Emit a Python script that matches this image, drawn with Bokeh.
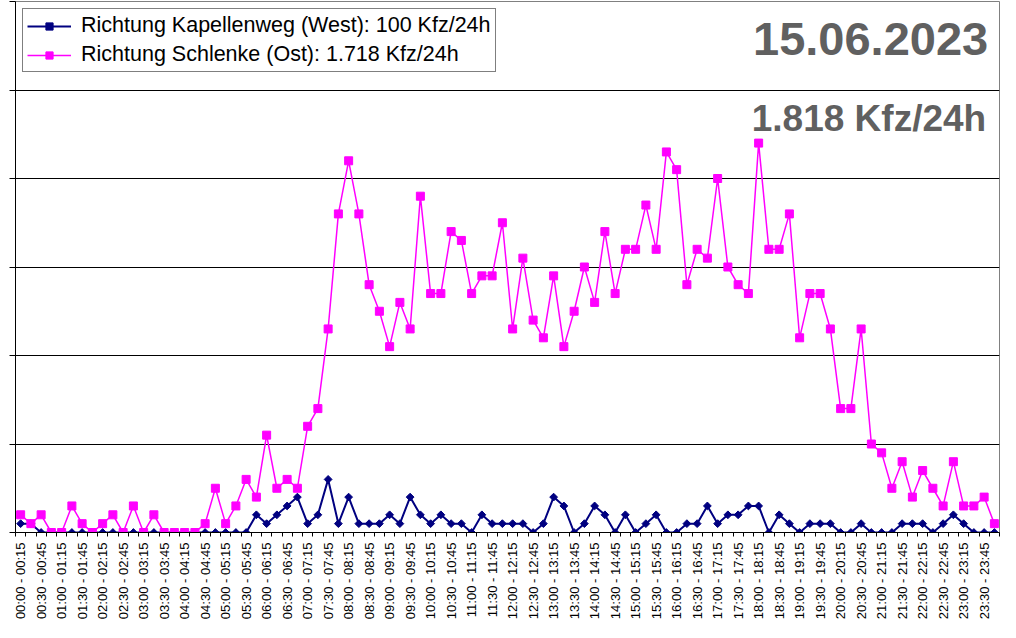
import math
from bokeh.plotting import figure
from bokeh.models import Range1d, FixedTicker, Legend, LegendItem, Label
from bokeh.embed import file_html
from bokeh.resources import INLINE

DATE = "15.06.2023"
NAME_WEST = "Richtung Kapellenweg (West)"
NAME_EST = "Richtung Schlenke (Ost)"

# 15-minute counts, 96 intervals
west = [1, 1, 0, 0, 0, 0, 0, 0, 0, 0, 0, 0, 0, 0, 0, 0, 0, 0, 0, 0, 0, 0, 0, 2,
        1, 2, 3, 4, 1, 2, 6, 1, 4, 1, 1, 1, 2, 1, 4, 2, 1, 2, 1, 1, 0, 2, 1, 1,
        1, 1, 0, 1, 4, 3, 0, 1, 3, 2, 0, 2, 0, 1, 2, 0, 0, 1, 1, 3, 1, 2, 2, 3,
        3, 0, 2, 1, 0, 1, 1, 1, 0, 0, 1, 0, 0, 0, 1, 1, 1, 0, 1, 2, 1, 0, 0, 0]
east = [2, 1, 2, 0, 0, 3, 1, 0, 1, 2, 0, 3, 0, 2, 0, 0, 0, 0, 1, 5, 1, 3, 6, 4,
        11, 5, 6, 5, 12, 14, 23, 36, 42, 36, 28, 25, 21, 26, 23, 38, 27, 27, 34, 33, 27, 29, 29, 35,
        23, 31, 24, 22, 29, 21, 25, 30, 26, 34, 27, 32, 32, 37, 32, 43, 41, 28, 32, 31, 40, 30, 28, 27,
        44, 32, 32, 36, 22, 27, 27, 23, 14, 14, 23, 10, 9, 5, 8, 4, 7, 5, 3, 8, 3, 3, 4, 1]

def hhmm(m):
    return f"{m // 60:02d}:{m % 60:02d}"

intervals = [f"{hhmm(i * 15)} - {hhmm(i * 15 + 15)}" for i in range(96)]
xs = list(range(96))

def de(n):
    return f"{n:,}".replace(",", ".")

p = figure(width=1000, height=622, output_backend="svg", toolbar_location=None,
           title=None, x_range=Range1d(-0.5, 95.5), y_range=Range1d(0, 60),
           min_border_left=15, min_border_right=1, min_border_top=1, min_border_bottom=60,
           outline_line_color="#808080", outline_line_width=1,
           background_fill_color="white", border_fill_color="white")

# x axis
p.xaxis.ticker = FixedTicker(ticks=list(range(0, 96, 2)),
                             minor_ticks=[i - 0.5 for i in range(97)])
p.xaxis.major_label_overrides = {i: intervals[i] for i in range(0, 96, 2)}
p.xaxis.major_label_orientation = math.pi / 2
p.xaxis.major_tick_out = 0
p.xaxis.major_tick_in = 0
p.xaxis.minor_tick_out = 4
p.xaxis.minor_tick_in = 0
p.xaxis.minor_tick_line_color = "black"
p.xaxis.axis_line_color = "black"
p.xaxis.major_label_standoff = 6
p.xaxis.axis_label_standoff = 0
p.xaxis.major_label_text_font = "Liberation Sans"
p.xaxis.major_label_text_font_size = "13px"
p.xaxis.major_label_text_color = "black"

# y axis (ticks only, no labels)
p.yaxis.ticker = FixedTicker(ticks=[0, 10, 20, 30, 40, 50, 60], minor_ticks=[])
p.yaxis.major_label_overrides = {v: "" for v in [0, 10, 20, 30, 40, 50, 60]}
p.yaxis.major_tick_out = 6
p.yaxis.major_tick_in = 0
p.yaxis.minor_tick_out = 0
p.yaxis.major_label_standoff = 0
p.yaxis.axis_line_color = "black"
p.yaxis.major_tick_line_color = "black"

p.xgrid.visible = False
p.ygrid.ticker = FixedTicker(ticks=[10, 20, 30, 40, 50])
p.ygrid.grid_line_color = "black"
p.ygrid.grid_line_width = 1

lw = p.line(xs, west, line_color="#000080", line_width=2)
sw = p.scatter(xs, west, marker="square", angle=math.pi / 4, size=5.5,
               fill_color="#000080", line_color="#000080")
le = p.line(xs, east, line_color="#FF00FF", line_width=1.5)
se = p.scatter(xs, east, marker="square", size=8,
               fill_color="#FF00FF", line_color="#FF00FF")

legend = Legend(items=[
    LegendItem(label=f"{NAME_WEST}: {de(sum(west))} Kfz/24h", renderers=[lw, sw]),
    LegendItem(label=f"{NAME_EST}: {de(sum(east))} Kfz/24h", renderers=[le, se]),
], location="top_left")
legend.margin = 7
legend.padding = 4
legend.spacing = 4
legend.glyph_width = 44
legend.glyph_height = 18
legend.label_height = 24
legend.label_standoff = 10
legend.label_text_font = "Liberation Sans"
legend.label_text_font_size = "21.5px"
legend.label_text_color = "black"
legend.border_line_color = "black"
legend.border_line_width = 1
legend.background_fill_color = "white"
legend.background_fill_alpha = 1
p.add_layout(legend)

p.add_layout(Label(x=94.4, y=55.8, text=DATE, text_align="right",
                   text_baseline="alphabetic", text_font="Liberation Sans",
                   text_font_style="bold", text_font_size="47px", text_color="#606060"))
p.add_layout(Label(x=94.2, y=46.8, text=f"{de(sum(west) + sum(east))} Kfz/24h",
                   text_align="right", text_baseline="alphabetic",
                   text_font="Liberation Sans", text_font_style="bold",
                   text_font_size="37px", text_color="#606060"))

open("out.html", "w").write(file_html(p, INLINE))
